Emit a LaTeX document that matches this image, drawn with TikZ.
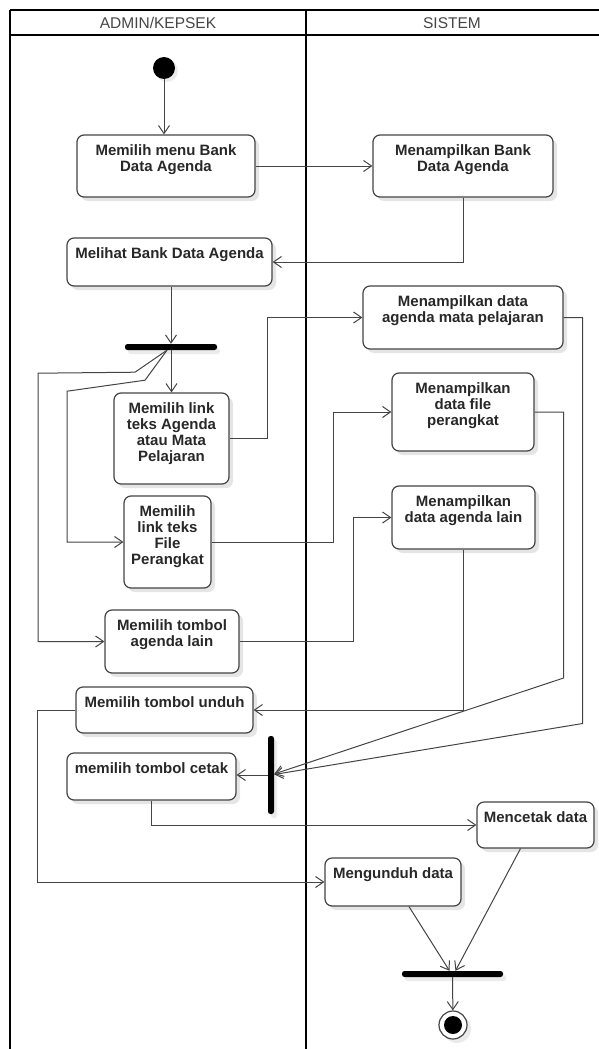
\documentclass[tikz,border=0pt]{standalone}
\usepackage{fontspec}
\setmainfont{Liberation Sans}
\usetikzlibrary{positioning,arrows.meta,shadows}
\definecolor{EdgeGray}{RGB}{68,68,68}
\definecolor{TextGray}{RGB}{40,40,40}
\definecolor{HeadGray}{RGB}{70,70,70}
\newcommand{\acttext}[3]{\parbox[c][#2][t]{#1}{\centering\rule{0pt}{20pt}#3}}

\begin{document}
\begin{tikzpicture}[x=1pt, y=-1pt,
act/.style={draw=EdgeGray, line width=1.2pt, rounded corners=7pt, fill=white, inner sep=0pt,
text=TextGray, font=\fontsize{15}{16}\selectfont\bfseries,
drop shadow={shadow xshift=4pt, shadow yshift=-4pt, fill=black, opacity=0.1}},
bar/.style={fill=black, rounded corners=2.5pt, inner sep=0pt,
drop shadow={shadow xshift=3pt, shadow yshift=-4pt, fill=black, opacity=0.08}},
startnode/.style={circle, fill=black, minimum size=22pt, inner sep=0pt,
drop shadow={shadow xshift=3pt, shadow yshift=-3pt, fill=black, opacity=0.08}},
endnode/.style={circle, draw=EdgeGray, line width=1.2pt, fill=white, minimum size=28pt, inner sep=0pt,
path picture={\fill[black] (path picture bounding box.center) circle (9pt);},
drop shadow={shadow xshift=4pt, shadow yshift=-4pt, fill=black, opacity=0.08}},
line/.style={draw=EdgeGray, line width=1pt, -{Straight Barb[length=8pt,width=11pt]}},
lane/.style={draw=black, line width=2pt},
head/.style={text=HeadGray, font=\fontsize{15.5}{17}\selectfont}]
\useasboundingbox (0,0) rectangle (599,1049);

% swimlanes
\draw[lane] (10,10) -- (599,10);
\draw[lane] (10,35) -- (599,35);
\draw[lane] (10,10) -- (10,1049);
\draw[lane] (306,10) -- (306,1049);
\node[head] (laneA) at (158,23) {ADMIN/KEPSEK};
\node[head] (laneB) at (452,23) {SISTEM};

% activities
\node[startnode] (start) at (164,68) {};
\node[act] (n1) at (166,166) {\acttext{178pt}{62pt}{Memilih menu Bank\\Data Agenda}};
\node[act] (n2) at (463,166) {\acttext{180pt}{62pt}{Menampilkan Bank\\Data Agenda}};
\node[act] (n3) at (169.5,262) {\acttext{205pt}{48pt}{Melihat Bank Data Agenda}};
\node[bar, minimum width=92pt, minimum height=6pt] (fork1) at (171,347) {};
\node[act] (n4) at (171.5,438.5) {\acttext{115pt}{91pt}{Memilih link\\teks Agenda\\atau Mata\\Pelajaran}};
\node[act] (n5) at (463,317.5) {\acttext{200pt}{63pt}{Menampilkan data\\agenda mata pelajaran}};
\node[act] (n6) at (463,412) {\acttext{142pt}{78pt}{Menampilkan\\data file\\perangkat}};
\node[act] (n7) at (167.5,542) {\acttext{87pt}{92pt}{Memilih\\link teks\\File\\Perangkat}};
\node[act] (n8) at (172,641.5) {\acttext{134pt}{63pt}{Memilih tombol\\agenda lain}};
\node[act] (n9) at (463.5,517.5) {\acttext{143pt}{63pt}{Menampilkan\\data agenda lain}};
\node[act] (n10) at (164.5,710) {\acttext{177pt}{46pt}{Memilih tombol unduh}};
\node[bar, minimum width=6pt, minimum height=78pt] (join2) at (271,775) {};
\node[act] (n11) at (151.5,776.5) {\acttext{169pt}{47pt}{memilih tombol cetak}};
\node[act] (n12) at (535.5,825) {\acttext{117pt}{46pt}{Mencetak data}};
\node[act] (n13) at (393,882) {\acttext{136pt}{48pt}{Mengunduh data}};
\node[bar, minimum width=101pt, minimum height=6pt] (join3) at (452.5,974) {};
\node[endnode] (end) at (453,1025) {};

% flows
\draw[line] (start) -- (start |- n1.north);
\draw[line] (n1) -- (n2);
\draw[line] (n2.south) |- (n3.east);
\draw[line] (n3.south -| fork1.north) -- (fork1.north);
\draw[line] (fork1.south -| n4.north) -- (n4.north);
\draw[line] ([xshift=-4pt]fork1.south) -- ++(-22,30) -- ++(-78,11) |- (n7.west);
\draw[line] ([xshift=-4pt]fork1.south) -- ++(-32,22) -- ++(-97,1) |- (n8.west);
\draw[line] (n4.east) -- ++(38,0) |- (n5.west);
\draw[line] (n7.east) -- ++(122,0) |- (n6.west);
\draw[line] (n8.east) -- ++(114,0) |- (n9.west);
\draw[line] (n9.south) |- (n10.east);
\draw[line] (n6.east) -- ++(29,0) -- ++(0,266) -- (join2);
\draw[line] (n5.east) -- ++(19,0) -- ++(0,406) -- (join2);
\draw[line] (join2.west) -- (join2.west -| n11.east);
\draw[line] (n10.west) -- ++(-38,0) |- (n13.west);
\draw[line] (n11.south) |- (n12.west);
\draw[line] ([xshift=16pt]n13.south) -- ([xshift=-3pt]join3.north);
\draw[line] ([xshift=-15pt]n12.south) -- ([xshift=3pt]join3.north);
\draw[line] (join3) -- (end);
\end{tikzpicture}
\end{document}
